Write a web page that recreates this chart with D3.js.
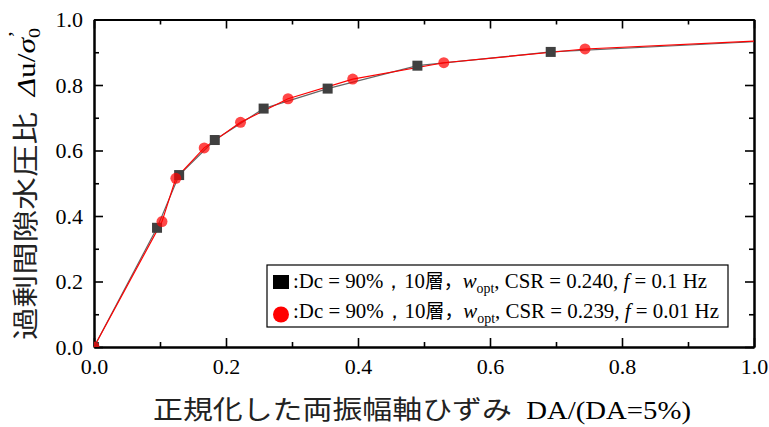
<!DOCTYPE html>
<html>
<head>
<meta charset="utf-8">
<script src="https://cdn.jsdelivr.net/npm/d3@7"></script>
<style>
  body { margin: 0; background: #fff; }
  svg text, svg tspan { font-family: "Liberation Serif", "Times New Roman", serif; fill: #000; white-space: pre; }
  svg .cjk { font-family: "Noto Sans CJK JP", sans-serif; fill: #222; }
</style>
</head>
<body>
<script>
// data
const xSquare = [0, 0.0955, 0.129, 0.183, 0.257, 0.354, 0.490, 0.692];
const ySquare = [0, 0.364, 0.525, 0.632, 0.728, 0.789, 0.859, 0.901];
const xCircle = [0, 0.103, 0.124, 0.167, 0.222, 0.294, 0.392, 0.530, 0.744];
const yCircle = [0, 0.383, 0.515, 0.608, 0.686, 0.758, 0.818, 0.868, 0.910];
// curve ends run out to the right border
const curveEndX = 1.0;
const curveEndY = [0.932, 0.934];
const majorTicks = [0, 0.2, 0.4, 0.6, 0.8, 1.0];
const minorTicks = [0.1, 0.3, 0.5, 0.7, 0.9];
const legendLabels = [
  { csr: "0.240", f: "0.1 Hz" },
  { csr: "0.239", f: "0.01 Hz" }
];

const W = 769, H = 427;
const margin = { left: 94, right: 15, top: 19.5, bottom: 80 };

const svg = d3.select('body')
  .append('svg')
  .attr('width', W)
  .attr('height', H);

const xScale = d3.scaleLinear().domain([0, 1]).range([margin.left, W - margin.right]);
const yScale = d3.scaleLinear().domain([0, 1]).range([H - margin.bottom, margin.top]);

// clip for markers
svg.append('clipPath').attr('id', 'plot')
  .append('rect')
  .attr('x', xScale(0)).attr('y', yScale(1))
  .attr('width', xScale(1) - xScale(0))
  .attr('height', yScale(0) - yScale(1));

// axes
function drawAxis(axis, tx, ty, labels) {
  let g = svg.append('g')
    .attr('transform', 'translate(' + tx + ',' + ty + ')')
    .call(axis)
    .attr('font-family', null)
    .attr('font-size', null);
  g.select('.domain').attr('stroke-width', 2);
  g.selectAll('.tick line').attr('stroke-width', 1.6);
  if (!labels) g.selectAll('.tick text').remove();
  else g.selectAll('.tick text')
    .attr('font-family', 'Liberation Serif')
    .style('font-family', '"Liberation Serif", serif')
    .style('font-size', '22px')
    .attr('fill', '#000');
  return g;
}

let fmt = d3.format('.1f');
drawAxis(d3.axisBottom(xScale).tickValues(minorTicks).tickSize(-5).tickSizeOuter(0), 0, yScale(0), false);
drawAxis(d3.axisBottom(xScale).tickValues(majorTicks).tickSize(-9).tickSizeOuter(0).tickPadding(11).tickFormat(fmt), 0, yScale(0), true);
drawAxis(d3.axisLeft(yScale).tickValues(minorTicks).tickSize(-5).tickSizeOuter(0), xScale(0), 0, false);
drawAxis(d3.axisLeft(yScale).tickValues(majorTicks).tickSize(-9).tickSizeOuter(0).tickPadding(11).tickFormat(fmt), xScale(0), 0, true);
drawAxis(d3.axisTop(xScale).tickValues(minorTicks).tickSize(-5).tickSizeOuter(0), 0, yScale(1), false);
drawAxis(d3.axisTop(xScale).tickValues(majorTicks).tickSize(-9).tickSizeOuter(0), 0, yScale(1), false);
drawAxis(d3.axisRight(yScale).tickValues(minorTicks).tickSize(-5).tickSizeOuter(0), xScale(1), 0, false);
drawAxis(d3.axisRight(yScale).tickValues(majorTicks).tickSize(-9).tickSizeOuter(0), xScale(1), 0, false);

// curves
let line = d3.line()
  .x(d => xScale(d[0]))
  .y(d => yScale(d[1]));

let sqPts = xSquare.map((x, i) => [x, ySquare[i]]).concat([[curveEndX, curveEndY[0]]]);
let ciPts = xCircle.map((x, i) => [x, yCircle[i]]).concat([[curveEndX, curveEndY[1]]]);

svg.append('path')
  .attr('d', line(sqPts))
  .attr('fill', 'none')
  .attr('stroke', '#666')
  .attr('stroke-width', 1.2);

svg.append('path')
  .attr('d', line(ciPts))
  .attr('fill', 'none')
  .attr('stroke', '#ff0000')
  .attr('stroke-width', 1.2);

// markers
let marks = svg.append('g').attr('clip-path', 'url(#plot)');
marks.selectAll('.sq')
  .data(xSquare)
  .enter()
  .append('rect')
  .attr('x', (d) => xScale(d) - 5)
  .attr('y', (d, i) => yScale(ySquare[i]) - 5)
  .attr('width', 10)
  .attr('height', 10)
  .attr('fill', '#404040');

marks.selectAll('.ci')
  .data(xCircle)
  .enter()
  .append('circle')
  .attr('cx', (d) => xScale(d))
  .attr('cy', (d, i) => yScale(yCircle[i]))
  .attr('r', 5.5)
  .attr('fill', '#ff0000')
  .attr('fill-opacity', 0.72);

// legend
svg.append('rect')
  .attr('x', 267)
  .attr('y', 265)
  .attr('width', 461)
  .attr('height', 62)
  .attr('fill', '#fff')
  .attr('stroke', '#000')
  .attr('stroke-width', 1.2);

svg.append('rect')
  .attr('x', 273).attr('y', 275)
  .attr('width', 16).attr('height', 14)
  .attr('fill', '#000');
svg.append('circle')
  .attr('cx', 281).attr('cy', 314.5).attr('r', 8)
  .attr('fill', '#ff0000');

legendLabels.forEach((d, i) => {
  let t = svg.append('text')
    .attr('x', 293)
    .attr('y', 288 + i * 30)
    .style('font-size', '21px')
    .attr('textLength', i == 0 ? 414 : 426)
    .attr('lengthAdjust', 'spacingAndGlyphs');
  t.append('tspan').text(':Dc = 90%，10');
  t.append('tspan').attr('class', 'cjk').style('fill', '#000').style('font-size', '19px').text('層，');
  t.append('tspan').style('font-style', 'italic').text('w');
  t.append('tspan').attr('dy', 5).style('font-size', '14px').text('opt');
  t.append('tspan').attr('dy', -5).text(', CSR = ' + d.csr + ', ');
  t.append('tspan').style('font-style', 'italic').text('f');
  t.append('tspan').text(' = ' + d.f);
});

// axis titles
let xt = svg.append('text')
  .attr('x', 153)
  .attr('y', 419)
  .attr('textLength', 538)
  .attr('lengthAdjust', 'spacingAndGlyphs');
xt.append('tspan')
  .attr('class', 'cjk')
  .style('font-size', '26px')
  .text('正規化した両振幅軸ひずみ');
xt.append('tspan')
  .style('font-size', '25px')
  .text('\u00a0\u00a0DA/(DA=5%)');

let yt = svg.append('text')
  .attr('transform', 'translate(35, 184)rotate(-90)')
  .attr('text-anchor', 'middle')
  .attr('textLength', 312)
  .attr('lengthAdjust', 'spacingAndGlyphs');
yt.append('tspan')
  .attr('class', 'cjk')
  .style('font-size', '26px')
  .text('過剰間隙水圧比');
yt.append('tspan').style('font-size', '25px').text('\u00a0\u00a0');
yt.append('tspan').style('font-size', '25px').style('font-style', 'italic').text('Δ');
yt.append('tspan').style('font-size', '25px').text('u/');
yt.append('tspan').style('font-size', '25px').style('font-style', 'italic').text('σ');
yt.append('tspan').style('font-size', '16px').attr('dy', 5).text('0');
yt.append('tspan').style('font-size', '18px').attr('dx', -8).attr('dy', -18).text('\u2019');
</script>
</body>
</html>
